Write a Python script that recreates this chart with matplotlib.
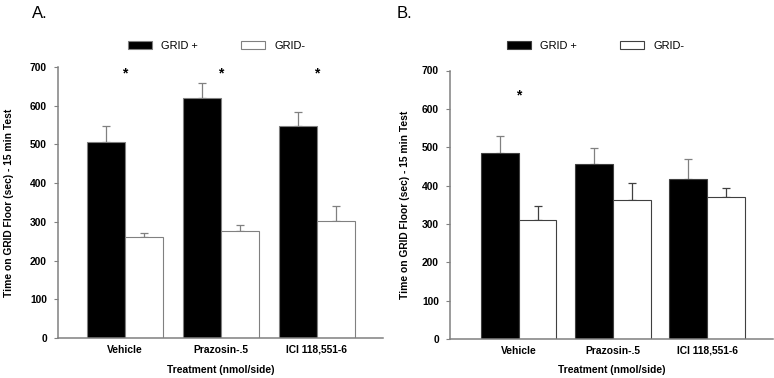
import numpy as np
from matplotlib import pyplot as plt

plt.rcParams['font.family'] = ['Liberation Sans', 'DejaVu Sans']

treatments = ['Vehicle', 'Prazosin-.5', 'ICI 118,551-6']

# panel A
a_grid_plus = [507, 620, 548]
a_grid_plus_err = [41, 39, 37]
a_grid_minus = [262, 276, 301]
a_grid_minus_err = [10, 17, 39]
a_stars = [True, True, True]

# panel B
b_grid_plus = [484, 456, 417]
b_grid_plus_err = [45, 42, 52]
b_grid_minus = [310, 363, 370]
b_grid_minus_err = [37, 43, 24]
b_stars = [True, False, False]

W = 0.4
fig = plt.figure(figsize=(7.74, 3.78), dpi=100)


def panel(rect, plus, plus_err, minus, minus_err, stars, star_y, xlim, edge):
    ax = fig.add_axes(rect)
    x = np.arange(len(treatments))
    ax.bar(x - W / 2, plus, W, color='black', edgecolor=edge, linewidth=0.8,
           label='GRID +', zorder=2)
    ax.bar(x + W / 2, minus, W, color='white', edgecolor=edge, linewidth=0.8,
           label='GRID-', zorder=2)
    ax.errorbar(x - W / 2, plus, yerr=[np.zeros(3), plus_err], fmt='none',
                ecolor='#808080', elinewidth=0.9, capsize=3, capthick=0.9, zorder=1)
    ax.errorbar(x + W / 2, minus, yerr=[np.zeros(3), minus_err], fmt='none',
                ecolor=edge, elinewidth=0.9, capsize=3, capthick=0.9, zorder=1)
    for i, s in enumerate(stars):
        if s:
            ax.text(i, star_y, '*', ha='center', va='center', fontsize=10,
                    fontweight='bold')
    ax.set_xlim(*xlim)
    ax.set_ylim(0, 700)
    ax.set_yticks(np.arange(0, 701, 100))
    ax.set_xticks(x)
    ax.set_xticklabels(treatments, fontsize=7.4, fontweight='bold')
    for lab in ax.get_yticklabels():
        lab.set_fontweight('bold')
    ax.tick_params(axis='x', length=0, pad=5)
    ax.tick_params(axis='y', length=3, width=0.8, color='#808080', pad=5, labelsize=7.4)
    for sp in ['top', 'right']:
        ax.spines[sp].set_visible(False)
    for sp in ['left', 'bottom']:
        ax.spines[sp].set_color('#808080')
        ax.spines[sp].set_linewidth(1.1)
    ax.set_ylabel('Time on GRID Floor (sec) - 15 min Test', fontsize=7.4,
                  fontweight='bold')
    ax.set_xlabel('Treatment (nmol/side)', fontsize=7.4, fontweight='bold')
    return ax


axA = panel([58 / 774, 1 - 338 / 378, 325 / 774, 271 / 378],
            a_grid_plus, a_grid_plus_err, a_grid_minus, a_grid_minus_err,
            a_stars, 683, (-0.70, 2.69), '#808080')
axA.yaxis.set_label_coords(-0.136, 0.5)
axA.xaxis.set_label_coords(0.5, -0.1)

axB = panel([450 / 774, 1 - 339 / 378, 323 / 774, 268.5 / 378],
            b_grid_plus, b_grid_plus_err, b_grid_minus, b_grid_minus_err,
            b_stars, 635, (-0.73, 2.70), '#404040')
axB.yaxis.set_label_coords(-0.125, 0.5)
axB.xaxis.set_label_coords(0.5, -0.097)

for ax, lx in [(axA, 128), (axB, 507)]:
    ax.legend(loc='center left', bbox_to_anchor=(lx / 774, 1 - 46 / 378),
              bbox_transform=fig.transFigure, ncol=2, frameon=False,
              fontsize=7.9, borderpad=0, borderaxespad=0, handlelength=2.2,
              handleheight=0.75, handletextpad=0.8, columnspacing=3.95)

fig.text(32 / 774, 1 - 14 / 378, 'A.', fontsize=12, va='center', ha='left')
fig.text(397 / 774, 1 - 14 / 378, 'B.', fontsize=12, va='center', ha='left')

fig.savefig('out.png', dpi=100)
